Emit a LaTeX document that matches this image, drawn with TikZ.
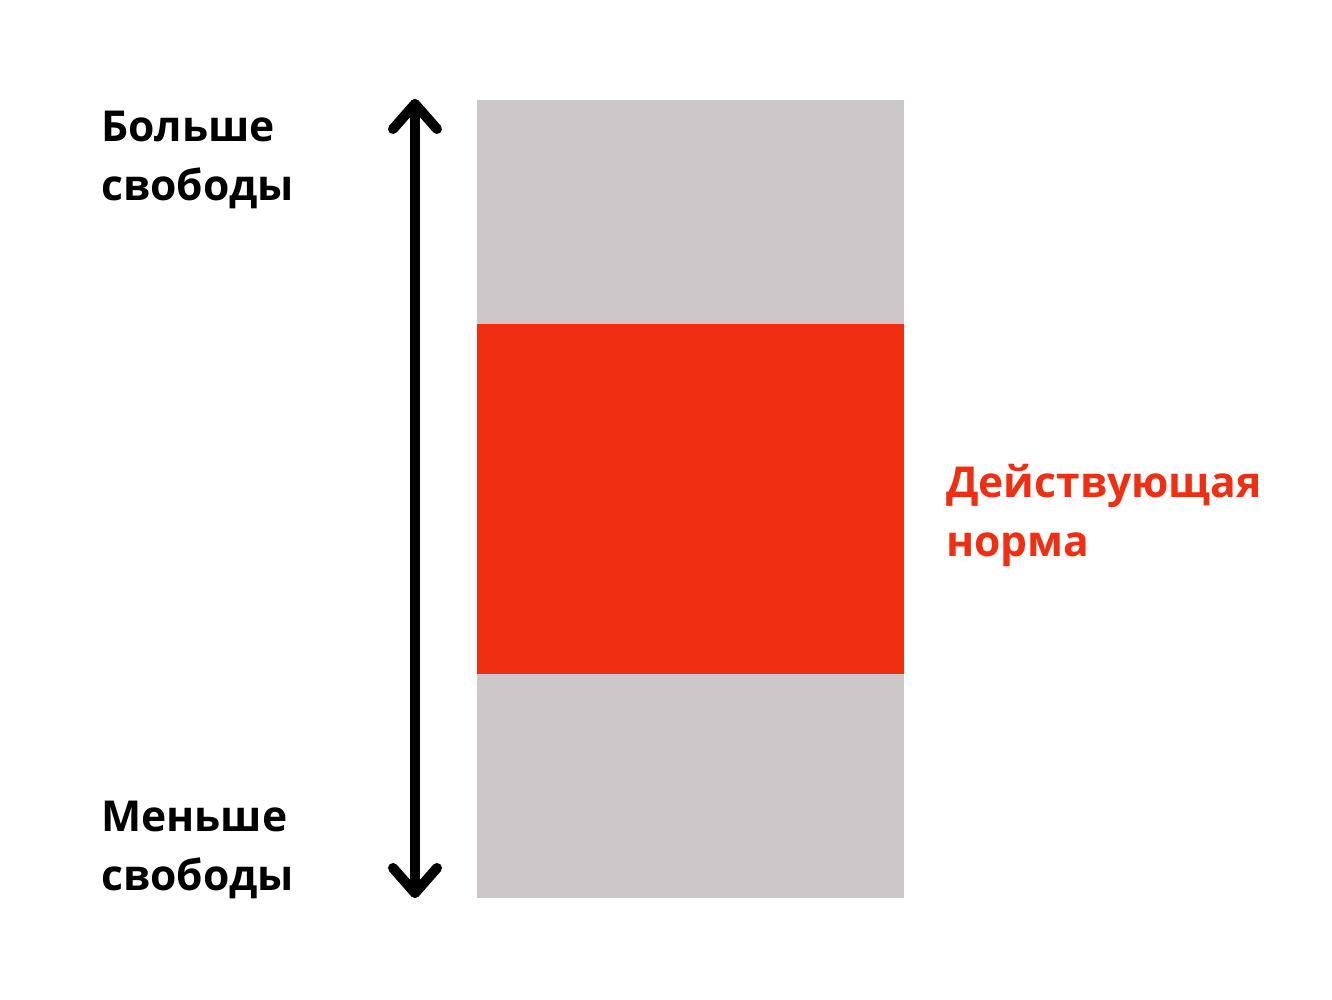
\documentclass[tikz,border=0pt]{standalone}
\usepackage{fontspec}
\setmainfont{Open Sans}
\definecolor{normgray}{HTML}{CCC7C8}
\definecolor{normred}{HTML}{F02E12}
\begin{document}
\begin{tikzpicture}[x=1pt,y=-1pt,
  band/.style={draw=none,inner sep=0pt,minimum width=427pt,anchor=north west},
  label/.style={inner sep=0pt,anchor=north west,align=left,font=\fontsize{42.6}{59}\selectfont\bfseries},
  arrowline/.style={line width=10pt,line cap=round,line join=round}]
\useasboundingbox[fill=white] (0,0) rectangle (1332,999);
\node[band,fill=normgray,minimum height=224pt] (top) at (477,100) {};
\node[band,fill=normred,minimum height=350pt] (mid) at (477,324) {};
\node[band,fill=normgray,minimum height=224pt] (bot) at (477,674) {};
\coordinate (up) at (415,104);
\coordinate (down) at (415,893);
\draw[arrowline] (up) -- (down);
\draw[arrowline] ([xshift=-22pt,yshift=-25pt]up) -- (up) -- ([xshift=22pt,yshift=-25pt]up);
\draw[arrowline] ([xshift=-22pt,yshift=25pt]down) -- (down) -- ([xshift=22pt,yshift=25pt]down);
\node[label] (more) at (101,111) {Больше\\свободы};
\node[label] (less) at (101,801) {Меньше\\свободы};
\node[label,text=normred] (norm) at (946,464) {Действующая\\норма};
\end{tikzpicture}
\end{document}
